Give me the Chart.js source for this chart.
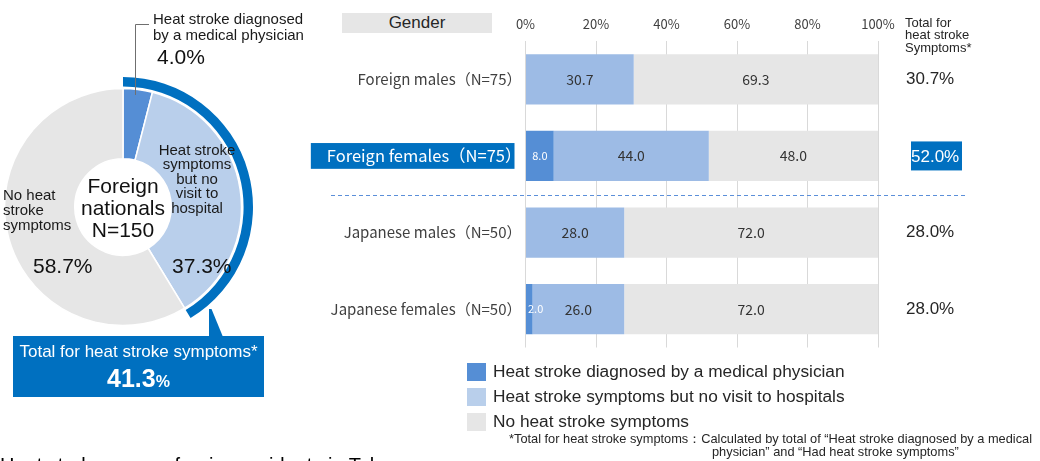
<!DOCTYPE html>
<html><head><meta charset="utf-8">
<script src="https://cdn.jsdelivr.net/npm/chart.js@4.4.1/dist/chart.umd.min.js"></script>
<style>
html,body{margin:0;padding:0;background:#fff;width:1040px;height:461px;overflow:hidden;position:relative;font-family:"Liberation Sans",Arial,sans-serif;color:#111}
.t{position:absolute;white-space:nowrap}
canvas{position:absolute}
svg{position:absolute;left:0;top:0;pointer-events:none}
</style></head><body>
<canvas id="donut" width="280" height="300" style="left:-17px;top:57px"></canvas>
<canvas id="bars" width="740" height="461" style="left:300px;top:0"></canvas>
<svg width="1040" height="461">
  <polyline points="135.5,95 135.5,24.5 149,24.5" fill="none" stroke="#6f6f6f" stroke-width="1"/>
  <polygon points="209,309 211.5,309 223,337 209,337" fill="#0070C0"/>
</svg>
<div id="txt"></div>
<script>
// ---------- data ----------
const donutLabels = ['Heat stroke diagnosed by a medical physician', 'Heat stroke symptoms but no visit to hospital', 'No heat stroke symptoms'];
const donutValues = [4.0, 37.3, 58.7];
const donutCenter = ['Foreign', 'nationals', 'N=150'];

const categories = ['Foreign males（N=75）', 'Foreign females（N=75）', 'Japanese males（N=50）', 'Japanese females（N=50）'];
const seriesNames = ['Heat stroke diagnosed by a medical physician', 'Heat stroke symptoms but no visit to hospitals', 'No heat stroke symptoms'];
const diagnosed = [0, 8.0, 0, 2.0];
const noVisit = [30.7, 44.0, 28.0, 26.0];
const noSymptoms = [69.3, 48.0, 72.0, 72.0];
const xTickValues = [0, 20, 40, 60, 80, 100];
const highlightIndex = 1;

// ---------- styles ----------
const C_DARK = '#558ED5', C_LIGHT_D = '#B9CFEB', C_LIGHT_B = '#9DBBE5', C_GRAY = '#E6E6E6', C_BOX = '#0070C0';
const SANS = '"Liberation Sans", Arial, sans-serif';
const CJK = '"Noto Sans CJK JP", "Liberation Sans", sans-serif';

// ---------- HTML annotations ----------
const txt = document.getElementById('txt');
function addText(html, style) {
  const d = document.createElement('div');
  d.className = 't';
  d.innerHTML = html;
  Object.assign(d.style, style);
  txt.appendChild(d);
  return d;
}
const fmt = v => v.toFixed(1) + '%';
const totalForeign = donutValues[0] + donutValues[1];

addText('Heat stroke diagnosed<br>by a medical physician', {left:'153px', top:'11px', fontSize:'15px', lineHeight:'15.5px', color:'#1a1a1a'});
addText(fmt(donutValues[0]), {left:'157px', top:'45px', fontSize:'21px', lineHeight:'24px'});
addText(donutCenter.join('<br>'), {left:'53px', width:'140px', textAlign:'center', top:'175px', fontSize:'21px', lineHeight:'22px'});
addText('Heat stroke<br>symptoms<br>but no<br>visit to<br>hospital', {left:'147px', width:'100px', textAlign:'center', top:'142.5px', fontSize:'15px', lineHeight:'14.5px', color:'#1a1a1a'});
addText(fmt(donutValues[1]), {left:'172px', top:'254px', fontSize:'21px', lineHeight:'24px'});
addText('No heat<br>stroke<br>symptoms', {left:'3px', top:'186.5px', fontSize:'15px', lineHeight:'15px', color:'#1a1a1a'});
addText(fmt(donutValues[2]), {left:'33px', top:'254px', fontSize:'21px', lineHeight:'24px'});

addText('', {left:'13px', top:'336px', width:'251px', height:'61px', background:C_BOX});
addText('Total for heat stroke symptoms*', {left:'13px', width:'251px', textAlign:'center', top:'342px', fontSize:'17px', lineHeight:'19px', color:'#fff'});
addText('<b style="font-size:25px">' + totalForeign.toFixed(1) + '</b><b style="font-size:16px">%</b>', {left:'13px', width:'251px', textAlign:'center', top:'364px', lineHeight:'28px', color:'#fff'});

addText('Heat stroke among foreign residents in Tokyo', {left:'0px', top:'454px', fontSize:'20px', lineHeight:'22px', color:'#000'});

// bar chart headers / footnote
addText('Gender', {left:'342px', top:'13px', width:'150px', height:'20px', background:C_GRAY, textAlign:'center', fontSize:'17px', lineHeight:'20px', color:'#262626'});
addText('Total for<br>heat stroke<br>Symptoms*', {left:'905px', top:'16.5px', fontSize:'13px', lineHeight:'12.5px', color:'#262626'});
addText('*Total for heat stroke symptoms：Calculated by total of “Heat stroke diagnosed by a medical', {left:'509px', top:'432px', fontSize:'12.8px', lineHeight:'14px', color:'#262626'});
addText('physician” and “Had heat stroke symptoms”', {left:'712px', top:'445px', fontSize:'12.8px', lineHeight:'14px', color:'#262626'});

// ---------- donut ----------
new Chart(document.getElementById('donut'), {
  type: 'doughnut',
  data: {
    labels: donutLabels,
    datasets: [
      { data: [totalForeign, 100 - totalForeign], backgroundColor: [C_BOX, 'rgba(0,0,0,0)'], borderWidth: 0, weight: 9 },
      { data: [100], backgroundColor: ['rgba(0,0,0,0)'], borderWidth: 0, weight: 2 },
      { data: donutValues, backgroundColor: [C_DARK, C_LIGHT_D, C_GRAY], borderColor: '#ffffff', borderWidth: 1.5, weight: 67 }
    ]
  },
  options: {
    responsive: false, animation: false,
    radius: 130, cutout: 52, rotation: 0,
    layout: { padding: 0 },
    plugins: { legend: { display: false }, tooltip: { enabled: false } }
  }
});

// ---------- bars ----------
const barPlugin = {
  id: 'barExtras',
  afterDraw(chart) {
    const ctx = chart.ctx;
    const ys = chart.scales.y;
    ctx.save();
    // separator dashed line between foreign and japanese groups
    const ySep = Math.round((ys.getPixelForValue(1) + ys.getPixelForValue(2)) / 2) + 1.5;
    ctx.strokeStyle = '#5B8FD9'; ctx.lineWidth = 1; ctx.setLineDash([4, 3]);
    ctx.beginPath(); ctx.moveTo(31, ySep); ctx.lineTo(666, ySep); ctx.stroke();
    ctx.setLineDash([]);
    // value labels
    chart.data.datasets.forEach((ds, di) => {
      const meta = chart.getDatasetMeta(di);
      meta.data.forEach((el, i) => {
        const v = ds.data[i];
        if (!v) return;
        const label = v.toFixed(1);
        ctx.font = di === 0 ? '11px ' + CJK : '14px ' + CJK;
        ctx.fillStyle = di === 0 ? '#ffffff' : '#333333';
        ctx.textBaseline = 'middle';
        const left = Math.min(el.x, el.base), right = Math.max(el.x, el.base);
        const w = ctx.measureText(label).width;
        if (right - left < w + 4) { ctx.textAlign = 'left'; ctx.fillText(label, left + 2, el.y); }
        else { ctx.textAlign = 'center'; ctx.fillText(label, (left + right) / 2, el.y); }
      });
    });
    // totals column
    const meta0 = chart.getDatasetMeta(0);
    categories.forEach((c, i) => {
      const y = meta0.data[i].y;
      const label = (diagnosed[i] + noVisit[i]).toFixed(1) + '%';
      ctx.font = '17px ' + SANS;
      ctx.textAlign = 'left'; ctx.textBaseline = 'middle';
      if (i === highlightIndex) {
        ctx.fillStyle = C_BOX; ctx.fillRect(611, y - 14.5, 51, 29);
        ctx.fillStyle = '#ffffff'; ctx.fillText(label, 611, y + 1);
      } else {
        ctx.fillStyle = '#262626'; ctx.fillText(label, 606, y);
      }
    });
    // legend
    const legendColors = [C_DARK, C_LIGHT_D, C_GRAY];
    seriesNames.forEach((n, i) => {
      ctx.fillStyle = legendColors[i];
      ctx.fillRect(167, 363 + 25 * i, 19, 18);
      ctx.fillStyle = '#262626';
      ctx.font = '17.3px ' + SANS; ctx.textAlign = 'left'; ctx.textBaseline = 'middle';
      ctx.fillText(n, 193, 372.5 + 25 * i);
    });
    ctx.restore();
  }
};

new Chart(document.getElementById('bars'), {
  type: 'bar',
  data: {
    labels: categories,
    datasets: [
      { label: seriesNames[0], data: diagnosed, backgroundColor: C_DARK },
      { label: seriesNames[1], data: noVisit, backgroundColor: C_LIGHT_B },
      { label: seriesNames[2], data: noSymptoms, backgroundColor: C_GRAY }
    ]
  },
  options: {
    responsive: false, animation: false,
    indexAxis: 'y',
    categoryPercentage: 1, barPercentage: 0.655,
    layout: { padding: { left: 0, right: 162, top: 0, bottom: 113.5 } },
    scales: {
      x: {
        stacked: true, min: 0, max: 100, position: 'top',
        afterFit: s => { s.height = 41; },
        afterBuildTicks: s => { s.ticks = xTickValues.map(v => ({ value: v })); },
        ticks: { callback: v => v + '%', font: { family: CJK, size: 13 }, color: '#404040', padding: 9, maxRotation: 0 },
        grid: { color: '#D9D9D9', drawTicks: false },
        border: { display: false }
      },
      y: {
        stacked: true,
        afterFit: s => { s.width = 225.5; },
        grid: { display: false, drawTicks: false },
        border: { display: false },
        ticks: {
          padding: 4,
          font: c => ({ family: CJK, size: c.index === highlightIndex ? 16.5 : 15 }),
          color: c => c.index === highlightIndex ? '#ffffff' : '#404040',
          showLabelBackdrop: c => c.index === highlightIndex,
          backdropColor: C_BOX,
          backdropPadding: { left: 16, right: -7, top: 3, bottom: 3 }
        }
      }
    },
    plugins: { legend: { display: false }, tooltip: { enabled: false } }
  },
  plugins: [barPlugin]
});
</script>
</body></html>
